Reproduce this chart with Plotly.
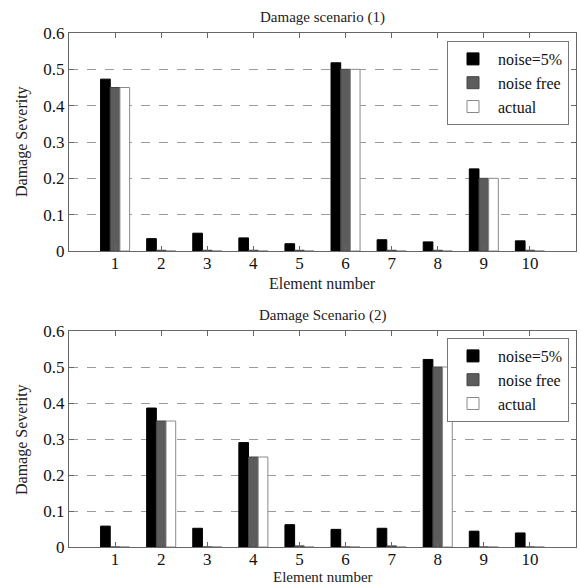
import plotly.graph_objects as go

elements = [1, 2, 3, 4, 5, 6, 7, 8, 9, 10]
tick_labels = ["1", "2", "3", "4", "5", "6", "7", "8", "9", "10"]
y_ticks = [0, 0.1, 0.2, 0.3, 0.4, 0.5, 0.6]
y_tick_labels = ["0", "0.1", "0.2", "0.3", "0.4", "0.5", "0.6"]

s1_noise5 = [0.473, 0.034, 0.049, 0.036, 0.020, 0.518, 0.031, 0.025, 0.226, 0.028]
s1_noisefree = [0.450, 0.002, 0.002, 0.002, 0.002, 0.500, 0.002, 0.002, 0.200, 0.002]
s1_actual = [0.45, 0, 0, 0, 0, 0.50, 0, 0, 0.20, 0]

s2_noise5 = [0.058, 0.386, 0.052, 0.290, 0.062, 0.049, 0.052, 0.521, 0.044, 0.039]
s2_noisefree = [0.0, 0.350, 0.0, 0.250, 0.003, 0.0, 0.003, 0.500, 0.0, 0.0]
s2_actual = [0, 0.35, 0, 0.25, 0, 0, 0, 0.50, 0, 0]

series_names = ["noise=5%", "noise free", "actual"]
fills = ["#000000", "#5c5c5c", "#ffffff"]
outlines = ["#000000", "#444444", "#8a8a8a"]

FONT = "Liberation Serif"
W, H = 580, 587

fig = go.Figure()

def add_set(vals, xa, ya, legend):
    for name, v, fc, lc in zip(series_names, vals, fills, outlines):
        fig.add_trace(go.Bar(
            x=elements, y=v, name=name, xaxis=xa, yaxis=ya,
            marker=dict(color=fc, line=dict(color=lc, width=1)),
            legend=legend, showlegend=True,
        ))

add_set([s1_noise5, s1_noisefree, s1_actual], "x", "y", "legend")
add_set([s2_noise5, s2_noisefree, s2_actual], "x2", "y2", "legend2")

xdom = [69 / W, 576 / W]
top_dom = [1 - 251 / H, 1 - 33 / H]
bot_dom = [1 - 547 / H, 1 - 331 / H]

xcommon = dict(
    range=[0, 11], tickmode="array", tickvals=elements, ticktext=tick_labels,
    ticks="inside", ticklen=5, tickcolor="#666666", showline=True,
    linecolor="#666666", linewidth=1, mirror="ticks", showgrid=False,
    zeroline=False, tickfont=dict(family=FONT, size=17, color="#111111"),
    ticklabelstandoff=-3,
    domain=xdom, automargin=False,
)
ycommon = dict(
    range=[0, 0.6], tickmode="array", tickvals=y_ticks, ticktext=y_tick_labels,
    ticks="inside", ticklen=5, tickcolor="#666666", showline=True,
    linecolor="#666666", linewidth=1, mirror="ticks", showgrid=True,
    gridcolor="#9a9a9a", griddash="dash", gridwidth=1, zeroline=False,
    tickfont=dict(family=FONT, size=17, color="#111111"), automargin=False,
)

legend_common = dict(
    font=dict(family=FONT, size=16, color="#111111"),
    bgcolor="white", bordercolor="#777777", borderwidth=1,
    xanchor="left", yanchor="top", itemwidth=40, tracegroupgap=0,
)

def ann(text, x, y, size, angle=0):
    return dict(text=text, x=x / W, y=1 - y / H, xref="paper", yref="paper",
                xanchor="center", yanchor="middle", showarrow=False,
                textangle=angle, font=dict(family=FONT, size=size, color="#222222"))

cx = (69 + 576) / 2
fig.update_layout(
    width=W, height=H,
    margin=dict(l=0, r=0, t=0, b=0),
    paper_bgcolor="white", plot_bgcolor="white",
    barmode="group", bargap=0.37, bargroupgap=0.0,
    xaxis=dict(**xcommon, anchor="y"),
    yaxis=dict(**ycommon, domain=top_dom, anchor="x"),
    xaxis2=dict(**xcommon, anchor="y2"),
    yaxis2=dict(**ycommon, domain=bot_dom, anchor="x2"),
    legend=dict(**legend_common, x=447 / W, y=1 - 41 / H),
    legend2=dict(**legend_common, x=447 / W, y=1 - 338 / H),
    annotations=[
        ann("Damage scenario (1)", cx, 17, 15),
        ann("Damage Scenario (2)", cx, 315, 15),
        ann("Element number", cx, 283, 16),
        ann("Element number", cx, 577, 15),
        ann("Damage Severity", 22, 142, 16, -90),
        ann("Damage Severity", 22, 440, 16, -90),
    ],
)

fig.write_html("out.html")
